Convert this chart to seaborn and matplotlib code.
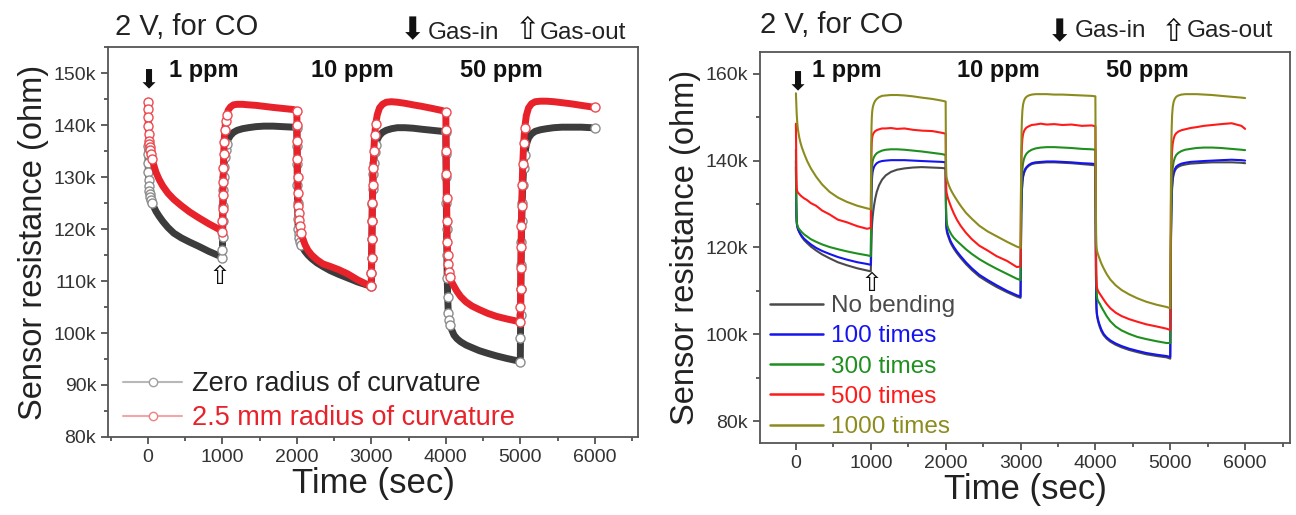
import matplotlib
matplotlib.use("Agg")
import matplotlib.pyplot as plt
import seaborn as sns
from matplotlib.lines import Line2D
from matplotlib.ticker import MultipleLocator, FuncFormatter

# sampling times (sec), six 1000 s steps of gas-in / gas-out
time_s = [
    0, 2, 4, 7, 10, 14, 19, 25, 33, 45, 60, 80, 110, 150, 200, 270, 350, 450, 560, 680, 820, 950,
    1000, 1002, 1004, 1007, 1010, 1014, 1019, 1025, 1033, 1045, 1060, 1080, 1110, 1150, 1200, 1270, 1350, 1450, 1560, 1680, 1820, 1950,
    2000, 2002, 2004, 2007, 2010, 2014, 2019, 2025, 2033, 2045, 2060, 2080, 2110, 2150, 2200, 2270, 2350, 2450, 2560, 2680, 2820, 2950,
    3000, 3002, 3004, 3007, 3010, 3014, 3019, 3025, 3033, 3045, 3060, 3080, 3110, 3150, 3200, 3270, 3350, 3450, 3560, 3680, 3820, 3950,
    4000, 4002, 4004, 4007, 4010, 4014, 4019, 4025, 4033, 4045, 4060, 4080, 4110, 4150, 4200, 4270, 4350, 4450, 4560, 4680, 4820, 4950,
    5000, 5002, 5004, 5007, 5010, 5014, 5019, 5025, 5033, 5045, 5060, 5080, 5110, 5150, 5200, 5270, 5350, 5450, 5560, 5680, 5820, 5950,
    6000,
]

# left panel, resistance in kOhm
res_zero_radius = [
    136.0, 134.5, 132.8, 131.0, 129.5, 128.2, 127.3, 126.7, 126.2, 125.6, 125.0, 124.3, 123.4, 122.5, 121.5, 120.3, 119.2, 118.3, 117.5, 116.7, 115.7, 114.9,
    114.5, 116.0, 118.5, 121.5, 124.5, 127.5, 130.0, 132.0, 133.8, 135.3, 136.4, 137.3, 138.0, 138.6, 139.0, 139.3, 139.5, 139.7, 139.8, 139.8, 139.7, 139.6,
    139.5, 136.0, 132.5, 128.5, 125.0, 122.0, 120.0, 119.0, 118.3, 117.6, 117.0, 116.4, 115.7, 115.0, 114.3, 113.5, 112.8, 112.0, 111.3, 110.6, 109.8, 109.2,
    109.0, 111.5, 114.5, 118.0, 121.5, 124.8, 127.8, 130.5, 132.8, 134.8, 136.2, 137.2, 138.0, 138.6, 139.0, 139.3, 139.5, 139.5, 139.4, 139.2, 139.0, 138.8,
    138.7, 134.5, 130.0, 125.0, 120.0, 115.0, 110.5, 107.0, 103.8, 102.6, 101.6, 100.6, 99.6, 98.9, 98.3, 97.7, 97.2, 96.6, 96.1, 95.6, 95.1, 94.7,
    94.5, 99.0, 103.5, 108.5, 113.0, 117.5, 121.5, 125.0, 128.5, 131.8, 134.3, 136.2, 137.5, 138.3, 138.8, 139.1, 139.3, 139.5, 139.6, 139.6, 139.6, 139.5,
    139.4,
]
res_2p5mm_radius = [
    144.5, 143.0, 141.5, 139.8, 138.3, 137.0, 136.3, 135.8, 135.2, 134.4, 133.4, 132.3, 130.9, 129.6, 128.3, 126.9, 125.7, 124.5, 123.3, 122.2, 121.0, 120.0,
    119.5, 121.5, 123.8, 126.5, 129.0, 131.8, 134.5, 136.8, 139.0, 140.8, 142.0, 142.9, 143.5, 143.9, 144.0, 144.0, 143.9, 143.8, 143.6, 143.4, 143.2, 143.0,
    142.8, 140.0, 137.0, 133.5, 130.0, 127.0, 124.5, 123.0, 121.8, 120.5, 119.3, 118.2, 117.0, 115.9, 115.0, 114.1, 113.3, 112.8, 112.2, 111.4, 110.2, 109.3,
    109.0, 111.5, 114.5, 118.0, 121.5, 125.0, 128.5, 131.8, 135.0, 138.0, 140.3, 142.0, 143.3, 144.0, 144.4, 144.5, 144.4, 144.2, 143.9, 143.6, 143.2, 142.8,
    142.5, 139.0, 135.0, 130.5, 126.0, 121.5, 117.5, 115.0, 113.3, 111.8, 110.7, 109.8, 109.0, 108.0, 107.0, 106.0, 105.2, 104.5, 103.8, 103.2, 102.7, 102.3,
    102.2, 105.0, 108.5, 112.5, 116.5, 120.5, 124.5, 128.5, 132.5, 136.5, 139.5, 141.8, 143.3, 144.1, 144.5, 144.6, 144.6, 144.5, 144.3, 144.1, 143.8, 143.5,
    143.4,
]

# right panel, resistance in kOhm
res_no_bending = [
    138.5, 134.5, 130.5, 127.5, 126.0, 125.3, 124.8, 124.4, 124.0, 123.5, 123.0, 122.4, 121.7, 121.0, 120.2, 119.3, 118.4, 117.5, 116.6, 115.9, 115.2, 114.7,
    114.5, 116.0, 118.0, 120.5, 122.5, 124.3, 125.8, 127.0, 128.3, 129.8, 131.3, 132.8, 134.3, 135.6, 136.6, 137.4, 137.9, 138.2, 138.4, 138.5, 138.4, 138.3,
    138.2, 133.5, 129.0, 126.0, 124.6, 123.9, 123.4, 123.0, 122.6, 122.0, 121.3, 120.6, 119.7, 118.7, 117.6, 116.2, 114.8, 113.3, 112.1, 110.9, 109.7, 108.7,
    108.4, 112.5, 117.5, 123.0, 127.3, 130.6, 133.1, 134.9, 136.1, 137.0, 137.7, 138.3, 138.8, 139.2, 139.4, 139.5, 139.6, 139.6, 139.5, 139.4, 139.2, 139.0,
    138.9, 131.5, 124.0, 115.5, 109.5, 106.0, 104.6, 103.9, 103.2, 102.4, 101.6, 100.7, 99.8, 99.0, 98.3, 97.6, 97.0, 96.4, 95.9, 95.4, 95.0, 94.7,
    94.4, 100.5, 107.5, 115.5, 122.0, 127.0, 131.0, 133.8, 135.6, 136.8, 137.6, 138.2, 138.6, 138.9, 139.1, 139.3, 139.4, 139.5, 139.6, 139.6, 139.6, 139.5,
    139.4,
]
res_100_times = [
    140.0, 135.0, 130.5, 127.5, 126.0, 125.3, 124.8, 124.4, 124.0, 123.6, 123.1, 122.6, 122.0, 121.4, 120.7, 119.9, 119.2, 118.5, 117.8, 117.2, 116.6, 116.2,
    116.0, 120.0, 124.5, 129.0, 132.5, 135.0, 136.5, 137.4, 138.0, 138.6, 139.0, 139.4, 139.7, 139.9, 140.0, 140.1, 140.1, 140.1, 140.0, 139.9, 139.8, 139.7,
    139.6, 134.0, 129.5, 126.5, 125.0, 124.3, 123.8, 123.4, 123.0, 122.4, 121.7, 121.0, 120.1, 119.1, 118.0, 116.6, 115.2, 113.7, 112.5, 111.3, 110.0, 109.0,
    108.7, 113.0, 118.0, 123.5, 127.8, 131.0, 133.5, 135.2, 136.4, 137.3, 138.0, 138.5, 139.0, 139.4, 139.6, 139.7, 139.8, 139.8, 139.7, 139.6, 139.4, 139.3,
    139.2, 132.0, 124.5, 116.0, 110.0, 106.5, 105.0, 104.3, 103.6, 102.8, 102.0, 101.1, 100.1, 99.3, 98.6, 97.9, 97.3, 96.7, 96.2, 95.7, 95.3, 95.0,
    94.8, 101.0, 108.0, 116.0, 122.5, 127.5, 131.5, 134.2, 136.0, 137.2, 138.0, 138.6, 139.0, 139.3, 139.5, 139.7, 139.8, 139.9, 140.0, 140.1, 140.2, 140.1,
    140.0,
]
res_300_times = [
    142.5, 137.0, 131.5, 128.0, 126.4, 125.6, 125.1, 124.8, 124.5, 124.2, 123.9, 123.5, 123.0, 122.5, 121.9, 121.3, 120.7, 120.1, 119.6, 119.1, 118.6, 118.2,
    118.0, 122.5, 127.0, 131.5, 135.0, 137.5, 139.0, 139.8, 140.4, 140.9, 141.3, 141.7, 142.0, 142.3, 142.5, 142.6, 142.6, 142.5, 142.3, 142.1, 141.8, 141.5,
    141.3, 136.0, 131.0, 128.0, 126.5, 125.8, 125.3, 124.9, 124.5, 124.0, 123.5, 122.9, 122.2, 121.5, 120.7, 119.6, 118.5, 117.3, 116.2, 115.1, 113.9, 112.8,
    112.5, 116.5, 121.0, 126.0, 130.0, 133.5, 136.2, 138.0, 139.3, 140.3, 141.0, 141.6, 142.1, 142.5, 142.8, 143.0, 143.1, 143.1, 143.0, 142.9, 142.7, 142.6,
    142.5, 136.0, 129.0, 121.0, 115.0, 111.0, 109.0, 108.2, 107.8, 107.4, 107.0, 106.3, 105.4, 104.2, 103.0, 101.8, 100.9, 100.1, 99.4, 98.9, 98.4, 98.0,
    98.0, 104.0, 111.0, 118.5, 124.5, 129.5, 133.5, 136.3, 138.3, 139.7, 140.6, 141.3, 141.8, 142.2, 142.5, 142.7, 142.9, 143.0, 143.0, 142.9, 142.7, 142.5,
    142.4,
]
res_500_times = [
    148.5, 144.0, 139.5, 135.5, 133.8, 133.2, 132.9, 132.7, 132.5, 132.3, 132.0, 131.7, 131.3, 130.9, 130.2, 129.6, 128.5, 127.6, 126.4, 125.8, 124.9, 124.3,
    124.5, 130.0, 135.5, 140.0, 142.8, 144.4, 145.3, 145.8, 146.2, 146.5, 146.8, 147.0, 147.2, 147.4, 147.4, 147.5, 147.3, 147.4, 147.1, 146.9, 146.8, 146.4,
    146.2, 141.0, 136.5, 134.0, 133.0, 132.5, 132.1, 131.7, 131.2, 130.6, 129.9, 129.0, 127.8, 126.4, 125.0, 123.4, 121.9, 120.4, 119.3, 118.0, 116.9, 115.5,
    115.6, 121.0, 127.0, 133.0, 137.5, 141.0, 143.5, 145.0, 146.0, 146.7, 147.2, 147.6, 147.9, 148.2, 148.3, 148.5, 148.3, 148.4, 148.2, 148.3, 148.0, 148.1,
    147.9, 139.5, 131.0, 122.0, 116.0, 112.5, 111.0, 110.5, 110.1, 109.7, 109.3, 108.8, 108.0, 107.0, 106.0, 105.0, 104.2, 103.5, 102.9, 102.3, 101.8, 101.3,
    101.0, 108.0, 116.0, 124.5, 131.0, 136.0, 139.8, 142.3, 143.9, 145.0, 145.8, 146.3, 146.7, 147.0, 147.2, 147.5, 147.7, 148.0, 148.2, 148.4, 148.6, 148.0,
    147.3,
]
res_1000_times = [
    155.5, 154.5, 153.4, 152.0, 150.9, 149.7, 148.5, 147.5, 146.5, 145.3, 144.2, 143.0, 141.6, 139.9, 138.2, 136.3, 134.5, 132.8, 131.5, 130.5, 129.6, 129.0,
    128.8, 134.0, 139.5, 144.5, 147.8, 150.0, 151.3, 152.1, 152.7, 153.3, 153.8, 154.2, 154.6, 154.9, 155.0, 155.1, 155.1, 155.0, 154.8, 154.5, 154.2, 153.8,
    153.6, 147.0, 141.5, 138.0, 136.5, 136.0, 135.6, 135.2, 134.8, 134.2, 133.6, 132.9, 132.0, 130.9, 129.6, 128.0, 126.6, 125.0, 123.7, 122.6, 121.3, 120.2,
    119.9, 125.0, 131.0, 137.5, 142.5, 146.5, 149.5, 151.5, 152.8, 153.7, 154.3, 154.7, 155.0, 155.2, 155.3, 155.3, 155.3, 155.2, 155.2, 155.1, 155.0, 154.9,
    154.8, 146.0, 137.0, 128.5, 123.0, 120.5, 119.5, 119.0, 118.5, 117.9, 117.2, 116.3, 115.2, 113.9, 112.6, 111.3, 110.2, 109.2, 108.3, 107.5, 106.8, 106.3,
    106.0, 113.0, 121.0, 130.0, 137.0, 143.0, 147.5, 150.5, 152.3, 153.5, 154.2, 154.7, 155.0, 155.2, 155.3, 155.3, 155.3, 155.2, 155.1, 154.9, 154.7, 154.5,
    154.4,
]

left_labels = ["Zero radius of curvature", "2.5 mm radius of curvature"]
right_labels = ["No bending", "100 times", "300 times", "500 times", "1000 times"]
right_series = [res_no_bending, res_100_times, res_300_times, res_500_times, res_1000_times]
right_colors = ["#4a4a4a", "#1414f0", "#1f8f1f", "#ff1a1a", "#8c8c1e"]
ppm_labels = ["1 ppm", "10 ppm", "50 ppm"]

sns.set_style("ticks")
plt.rcParams["font.family"] = ["Liberation Sans", "DejaVu Sans"]

fig = plt.figure(figsize=(12.96, 5.15), dpi=100)
ax1 = fig.add_axes([0.0833, 0.1515, 0.409, 0.757])
ax2 = fig.add_axes([0.5864, 0.140, 0.409, 0.759])


def style_axes(ax, xlim, ylim, ymajor, yminor):
    ax.set_xlim(*xlim)
    ax.set_ylim(*ylim)
    ax.xaxis.set_major_locator(MultipleLocator(1000))
    ax.xaxis.set_minor_locator(MultipleLocator(500))
    ax.yaxis.set_major_locator(MultipleLocator(ymajor))
    ax.yaxis.set_minor_locator(MultipleLocator(yminor))
    ax.yaxis.set_major_formatter(FuncFormatter(lambda v, p: f"{v:.0f}k"))
    ax.tick_params(which="both", direction="out", top=False, right=False,
                   color="#444444", width=1.2)
    ax.tick_params(which="major", length=5, labelsize=14, labelcolor="#333333")
    ax.tick_params(which="minor", length=3)
    for s in ax.spines.values():
        s.set_visible(True)
        s.set_color("#555555")
        s.set_linewidth(1.3)
    ax.set_xlabel("Time (sec)", fontsize=25, color="#222222", labelpad=1)
    ax.set_ylabel("Sensor resistance (ohm)", fontsize=23.5, color="#222222", labelpad=3)


# left panel: dense open-circle traces
mark_idx = [i for i in range(len(time_s)) if i % 22 < 11]
sns.lineplot(x=time_s, y=res_zero_radius, ax=ax1, color="#3c3c3c", lw=5,
             marker="o", markevery=mark_idx, ms=6.5, mfc="white", mec="#8c8c8c",
             mew=1, sort=False, estimator=None, legend=False)
sns.lineplot(x=time_s, y=res_2p5mm_radius, ax=ax1, color="#e8222b", lw=5,
             marker="o", markevery=mark_idx, ms=6.5, mfc="white", mec="#ee4a50",
             mew=1, sort=False, estimator=None, legend=False)
style_axes(ax1, (-535, 6580), (80, 155), 10, 5)

left_handles = [
    Line2D([], [], color="#b8b8b8", lw=1.5, marker="o", ms=6, mfc="white", mec="#a0a0a0"),
    Line2D([], [], color="#f4a6a6", lw=1.5, marker="o", ms=6, mfc="white", mec="#f08080"),
]
leg1 = ax1.legend(left_handles, left_labels, loc="lower left", bbox_to_anchor=(0.028, 0.015),
                  frameon=False, fontsize=19.5, handlelength=2.2, handletextpad=0.35,
                  labelspacing=0.3, borderpad=0, borderaxespad=0)
for txt, c in zip(leg1.get_texts(), ["#222222", "#e8222b"]):
    txt.set_color(c)

# right panel: thin lines
for vals, c in zip(right_series, right_colors):
    sns.lineplot(x=time_s, y=vals, ax=ax2, color=c, lw=1.5, sort=False,
                 estimator=None, legend=False)
style_axes(ax2, (-480, 6600), (75, 165), 20, 10)

right_handles = [Line2D([], [], color=c, lw=1.8) for c in right_colors]
leg2 = ax2.legend(right_handles, right_labels, loc="lower left", bbox_to_anchor=(0.018, 0.012),
                  frameon=False, fontsize=17.5, handlelength=2.2, handletextpad=0.35,
                  labelspacing=0.34, borderpad=0, borderaxespad=0)
for txt, c in zip(leg2.get_texts(), right_colors):
    txt.set_color(c)

# headers and markers of gas-in / gas-out
for ax, ty, gy, ay, ppm_x, ppm_y, xs in [
    (ax1, 1.032, 1.020, 1.042, [0.180, 0.461, 0.742], 0.923, [0.013, 0.574, 0.604, 0.791, 0.815]),
    (ax2, 1.049, 1.038, 1.049, [0.164, 0.449, 0.730], 0.936, [0.0, 0.566, 0.594, 0.781, 0.806]),
]:
    tr = ax.transAxes
    ax.text(xs[0], ty, "2 V, for CO", transform=tr, fontsize=21, color="#222222", va="baseline")
    ax.text(xs[1], ay, "\u2b07", transform=tr, fontsize=22, ha="center", va="center", color="#111111")
    ax.text(xs[2], gy, "Gas-in", transform=tr, fontsize=17.5, va="baseline", color="#222222")
    ax.text(xs[3], ay, "\u21e7", transform=tr, fontsize=22, ha="center", va="center", color="#111111")
    ax.text(xs[4], gy, "Gas-out", transform=tr, fontsize=17.5, va="baseline", color="#222222")
    for lab, px in zip(ppm_labels, ppm_x):
        ax.text(px, ppm_y, lab, transform=tr, fontsize=17, fontweight="bold",
                ha="center", va="baseline", color="#111111")

ax1.text(15, 148.4, "\u2b07", fontsize=19, ha="center", va="center", color="#111111")
ax1.text(960, 110.7, "\u21e7", fontsize=19, ha="center", va="center", color="#111111")
ax2.text(20, 157.7, "\u2b07", fontsize=19, ha="center", va="center", color="#111111")
ax2.text(1016, 111.6, "\u21e7", fontsize=19, ha="center", va="center", color="#111111")

fig.savefig("out.png", dpi=100)
